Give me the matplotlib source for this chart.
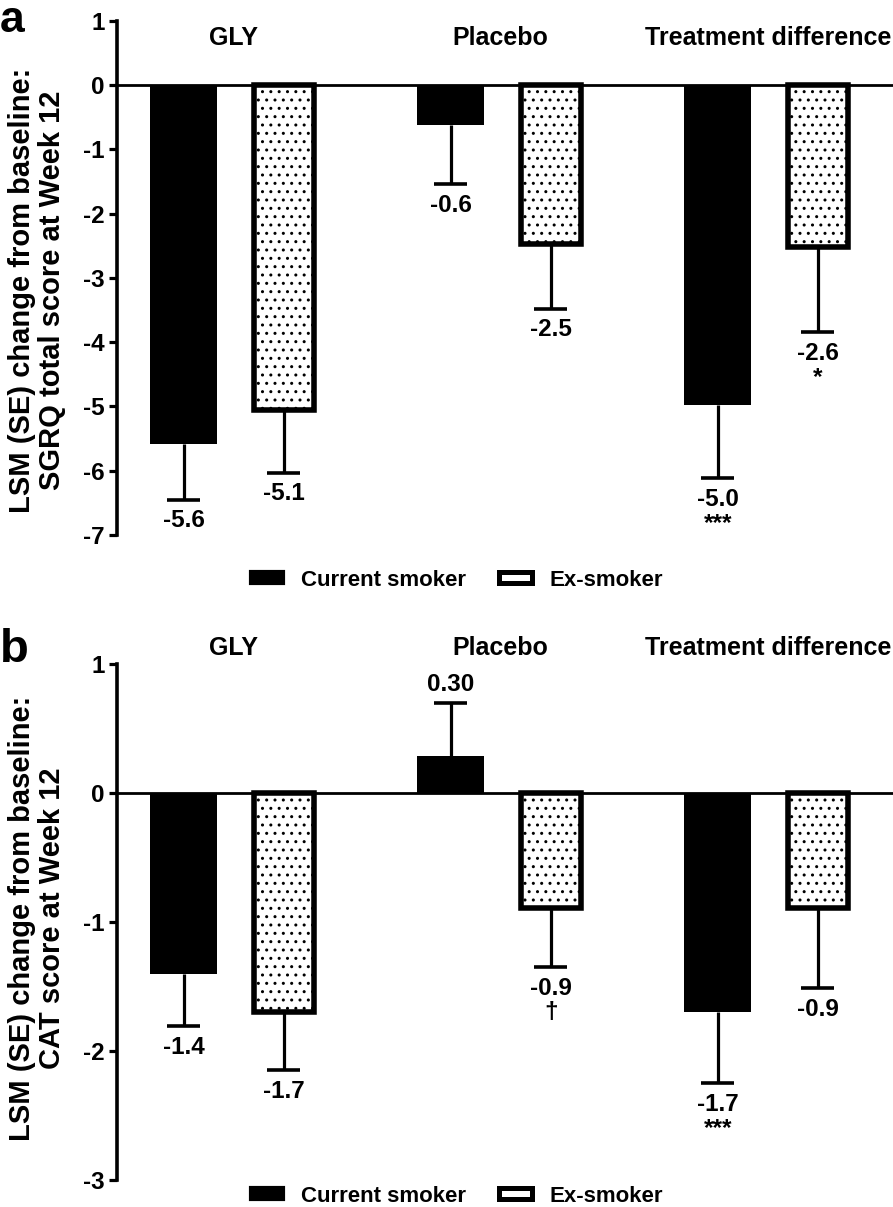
import matplotlib
matplotlib.use("Agg")
import matplotlib.pyplot as plt
from matplotlib.patches import Patch
from matplotlib.transforms import blended_transform_factory
import numpy as np

plt.rcParams['font.family'] = ['Liberation Sans', 'DejaVu Sans']
plt.rcParams['font.weight'] = 'bold'
plt.rcParams['hatch.linewidth'] = 1.0
plt.rcParams['axes.unicode_minus'] = False

# ---------------- data ----------------
groups = ['GLY', 'Placebo', 'Treatment difference']
series = ['Current smoker', 'Ex-smoker']

# Panel a: SGRQ total score
sgrq_current = [-5.58, -0.62, -4.98]
sgrq_current_se = [0.87, 0.92, 1.14]
sgrq_ex = [-5.05, -2.47, -2.52]
sgrq_ex_se = [0.98, 1.01, 1.33]
sgrq_current_labels = ['-5.6', '-0.6', '-5.0\n***']
sgrq_ex_labels = ['-5.1', '-2.5', '-2.6\n*']
sgrq_yticks = [1, 0, -1, -2, -3, -4, -5, -6, -7]
sgrq_yticklabels = ['1', '0', '-1', '-2', '-3', '-4', '-5', '-6', '-7']

# Panel b: CAT score
cat_current = [-1.40, 0.29, -1.70]
cat_current_se = [0.41, 0.41, 0.55]
cat_ex = [-1.70, -0.89, -0.89]
cat_ex_se = [0.45, 0.46, 0.62]
cat_current_labels = ['-1.4', '0.30', '-1.7\n***']
cat_ex_labels = ['-1.7', '-0.9\n\u2020', '-0.9']
cat_yticks = [1, 0, -1, -2, -3]
cat_yticklabels = ['1', '0', '-1', '-2', '-3']

ylabel_a = 'LSM (SE) change from baseline:\nSGRQ total score at Week 12'
ylabel_b = 'LSM (SE) change from baseline:\nCAT score at Week 12'

# ---------------- figure ----------------
W, H = 893, 1207
fig = plt.figure(figsize=(W / 100, H / 100), dpi=100)

ax_a = fig.add_axes([117 / W, 1 - 535 / H, 776 / W, (535 - 20.7) / H])
ax_b = fig.add_axes([117 / W, 1 - 1180 / H, 776 / W, (1180 - 664) / H])


def draw_panel(ax, cur, cur_se, ex, ex_se, cur_lab, ex_lab, ylim, yticks, yticklabels, title_y):
    gidx = np.arange(len(groups))
    xc = 0.667 + 2.67 * gidx
    xe = xc + 1.0
    ax.bar(xc, cur, width=0.67, color='black', edgecolor='black', linewidth=0, zorder=3)
    ax.bar(xe, ex, width=0.60, color='white', edgecolor='black', linewidth=4,
           hatch='..', zorder=3)
    for xs, vals, ses, labs in ((xc, cur, cur_se, cur_lab), (xe, ex, ex_se, ex_lab)):
        for x, v, se, lab in zip(xs, vals, ses, labs):
            s = 1 if v >= 0 else -1
            end = v + s * se
            ax.vlines(x, v, end, color='black', lw=2.3, zorder=2)
            ax.hlines(end, x - 0.165, x + 0.165, color='black', lw=2.6, zorder=2)
            ax.annotate(lab, (x, end), xytext=(0, -7 if s < 0 else 5),
                        textcoords='offset points', ha='center',
                        va='top' if s < 0 else 'bottom', fontsize=17.5,
                        fontweight='bold', linespacing=1.05)
    ax.axhline(0, color='black', lw=2.0, zorder=4)
    ax.set_xlim(0, 7.76)
    ax.set_ylim(*ylim)
    ax.set_yticks(yticks)
    ax.set_yticklabels(yticklabels)
    ax.set_xticks([])
    for sp in ('top', 'right', 'bottom'):
        ax.spines[sp].set_visible(False)
    ax.spines['left'].set_linewidth(2.6)
    ax.tick_params(axis='y', direction='out', length=6, width=2.3, labelsize=17.5, pad=3)
    tr = blended_transform_factory(ax.transData, fig.transFigure)
    for g, name in zip(gidx, groups):
        ax.text(xc[g] + 0.5, title_y, name, transform=tr, ha='center', va='center',
                fontsize=18, fontweight='bold')


draw_panel(ax_a, sgrq_current, sgrq_current_se, sgrq_ex, sgrq_ex_se,
           sgrq_current_labels, sgrq_ex_labels, (-7, 1), sgrq_yticks, sgrq_yticklabels,
           1 - 38 / H)
draw_panel(ax_b, cat_current, cat_current_se, cat_ex, cat_ex_se,
           cat_current_labels, cat_ex_labels, (-3, 1), cat_yticks, cat_yticklabels,
           1 - 648 / H)

# y labels
fig.text(37 / W, 1 - 290 / H, ylabel_a, rotation=90, ha='center', va='center',
         fontsize=21, fontweight='bold', linespacing=1.1, multialignment='center')
fig.text(37 / W, 1 - 918 / H, ylabel_b, rotation=90, ha='center', va='center',
         fontsize=21, fontweight='bold', linespacing=1.1, multialignment='center')

# panel letters
fig.text(0.0, 1.0, 'a', fontsize=32, fontweight='bold', ha='left', va='top')
fig.text(0.0, 1 - 662 / H, 'b', fontsize=34, fontweight='bold', ha='left', va='baseline')

# legends
handles = [Patch(facecolor='black', edgecolor='black', linewidth=3),
           Patch(facecolor='white', edgecolor='black', linewidth=3.6)]
for ly in (580, 1196):
    fig.legend(handles, series, loc='center', bbox_to_anchor=(457 / W, 1 - ly / H),
               ncol=2, frameon=False, fontsize=16, handlelength=1.45, handleheight=0.34,
               handletextpad=0.8, columnspacing=1.5, borderpad=0.1)

fig.savefig('out.png', dpi=100)
